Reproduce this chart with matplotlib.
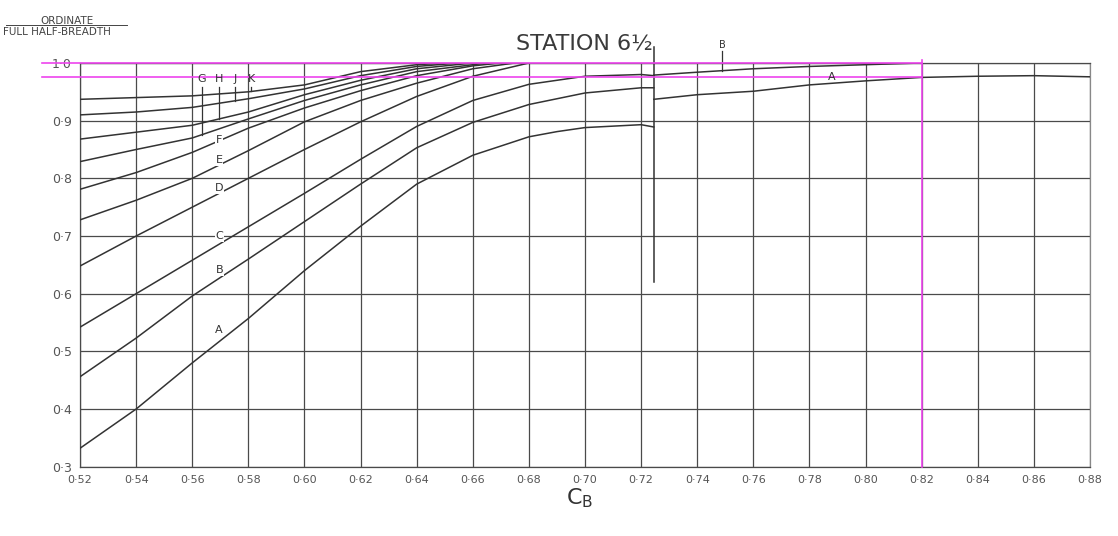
import numpy as np
import matplotlib
matplotlib.use("Agg")
import matplotlib.pyplot as plt

# block coefficient grid
cb_ticks = [0.52, 0.54, 0.56, 0.58, 0.60, 0.62, 0.64, 0.66, 0.68, 0.70,
            0.72, 0.74, 0.76, 0.78, 0.80, 0.82, 0.84, 0.86, 0.88]
ord_ticks = [0.3, 0.4, 0.5, 0.6, 0.7, 0.8, 0.9, 1.0]

# curves left of the station break (ordinate / full half-breadth)
cx_a = [0.52, 0.54, 0.56, 0.58, 0.60, 0.62, 0.64, 0.66, 0.68, 0.69, 0.70, 0.72, 0.7245]
cy_a = [0.332, 0.40, 0.48, 0.557, 0.64, 0.717, 0.79, 0.84, 0.872, 0.881, 0.888, 0.893, 0.889]
cx_b = [0.52, 0.54, 0.56, 0.58, 0.60, 0.62, 0.64, 0.66, 0.68, 0.70, 0.72, 0.7245]
cy_b = [0.456, 0.523, 0.596, 0.66, 0.725, 0.79, 0.853, 0.897, 0.928, 0.948, 0.957, 0.957]
cx_c = [0.52, 0.54, 0.56, 0.58, 0.60, 0.62, 0.64, 0.66, 0.68, 0.70, 0.72, 0.7245]
cy_c = [0.542, 0.60, 0.658, 0.716, 0.774, 0.833, 0.89, 0.935, 0.963, 0.977, 0.98, 0.978]
cx_d = [0.52, 0.54, 0.56, 0.58, 0.60, 0.62, 0.64, 0.66, 0.68]
cy_d = [0.648, 0.70, 0.75, 0.80, 0.85, 0.898, 0.942, 0.977, 1.0]
cx_e = [0.52, 0.54, 0.56, 0.58, 0.60, 0.62, 0.64, 0.66, 0.675]
cy_e = [0.728, 0.762, 0.80, 0.848, 0.898, 0.935, 0.965, 0.99, 1.0]
cx_f = [0.52, 0.54, 0.56, 0.58, 0.60, 0.62, 0.64, 0.66, 0.67]
cy_f = [0.781, 0.81, 0.845, 0.887, 0.922, 0.952, 0.978, 0.995, 1.0]
cx_g = [0.52, 0.54, 0.56, 0.58, 0.60, 0.62, 0.64, 0.665]
cy_g = [0.829, 0.85, 0.87, 0.903, 0.935, 0.962, 0.985, 1.0]
cx_h = [0.52, 0.54, 0.56, 0.58, 0.60, 0.62, 0.64, 0.66]
cy_h = [0.868, 0.88, 0.892, 0.915, 0.945, 0.97, 0.99, 1.0]
cx_j = [0.52, 0.54, 0.56, 0.58, 0.60, 0.62, 0.64, 0.655]
cy_j = [0.91, 0.915, 0.923, 0.938, 0.955, 0.978, 0.994, 1.0]
cx_k = [0.52, 0.54, 0.56, 0.58, 0.60, 0.62, 0.64, 0.65]
cy_k = [0.937, 0.94, 0.943, 0.95, 0.962, 0.985, 0.997, 1.0]

# curves right of the station break
rx_a = [0.7245, 0.74, 0.76, 0.78, 0.80, 0.82, 0.84, 0.86, 0.88]
ry_a = [0.937, 0.945, 0.951, 0.962, 0.969, 0.975, 0.977, 0.978, 0.976]
rx_b = [0.7245, 0.74, 0.76, 0.78, 0.80, 0.82]
ry_b = [0.979, 0.984, 0.99, 0.994, 0.997, 1.0]

station_cb = 0.7245
marked_cb = 0.82
marked_ord = [1.0, 0.975]

left_curves = [("A", cx_a, cy_a), ("B", cx_b, cy_b), ("C", cx_c, cy_c),
               ("D", cx_d, cy_d), ("E", cx_e, cy_e), ("F", cx_f, cy_f),
               ("G", cx_g, cy_g), ("H", cx_h, cy_h), ("J", cx_j, cy_j),
               ("K", cx_k, cy_k)]

ink = "#333333"
grid_ink = "#4a4a4a"
pink = "#ee44ee"

fig = plt.figure(figsize=(11.18, 5.36), dpi=100)
ax = fig.add_axes([0.0716, 0.1293, 0.9034, 0.7532])
ax.set_xlim(0.52, 0.88)
ax.set_ylim(0.3, 1.0)

for x in cb_ticks:
    ax.axvline(x, color=grid_ink, lw=0.9, zorder=1)
for y in ord_ticks:
    ax.axhline(y, color=grid_ink, lw=0.9, zorder=1)
for s in ax.spines.values():
    s.set_color(grid_ink)
    s.set_linewidth(0.9)
ax.spines["right"].set_color("#888888")

for name, xs, ys in left_curves:
    ax.plot(xs, ys, color=ink, lw=1.1, zorder=3)
ax.plot(rx_a, ry_a, color=ink, lw=1.1, zorder=3)
ax.plot(rx_b, ry_b, color=ink, lw=1.1, zorder=3)

# station break line
ax.plot([station_cb, station_cb], [0.62, 1.028], color=ink, lw=1.1,
        clip_on=False, zorder=3)

# pink marker lines
for yv in marked_ord:
    ax.plot([0.5065, marked_cb], [yv, yv], color=pink, lw=1.2,
            clip_on=False, zorder=4)
ax.plot([marked_cb, marked_cb], [0.3, 1.005], color=pink, lw=1.2,
        clip_on=False, zorder=4)

# labels A-F sit just above their curves
label_x = 0.5696
lab_fs = 8
for name, lab_y in zip("ABCDEF", [0.537, 0.641, 0.70, 0.783, 0.832, 0.866]):
    ax.text(label_x, lab_y, name, fontsize=lab_fs, color=ink,
            ha="center", va="center", zorder=5,
            bbox=dict(facecolor="white", edgecolor="none", pad=0.5))

# labels G H J K with leaders
for (name, xs, ys), lx in zip(left_curves[6:], [0.5635, 0.5695, 0.5752, 0.581]):
    yend = np.interp(lx, xs, ys)
    ax.plot([lx, lx], [0.958, yend], color=ink, lw=0.9, zorder=3)
    ax.text(lx, 0.972, name, fontsize=lab_fs, color=ink, ha="center",
            va="center", zorder=5)

# right labels
ax.plot([0.7489, 0.7489], [np.interp(0.7489, rx_b, ry_b), 1.02],
        color=ink, lw=0.9, clip_on=False)
ax.text(0.7489, 1.032, "B", fontsize=7, color=ink, ha="center", va="center")
ax.text(0.788, 0.976, "A", fontsize=8, color=ink, ha="center", va="center",
        zorder=5)

ax.set_xticks(cb_ticks)
ax.set_xticklabels([("%.2f" % v).replace("0.", "0\u00b7") for v in cb_ticks])
ax.set_yticks(ord_ticks)
ax.set_yticklabels([("%.1f" % v).replace(".", "\u00b7") for v in ord_ticks])
ax.tick_params(length=0, labelsize=8, colors="#555555", pad=6)
ax.tick_params(axis="y", labelsize=9)

fig.text(0.523, 0.918, "STATION 6\u00bd", fontsize=16, color="#3a3a3a",
         ha="center", va="center")
fig.text(0.518, 0.07, r"$\mathregular{C_B}$", fontsize=16, color="#333333",
         ha="center", va="center")

fig.text(0.06, 0.961, "ORDINATE", fontsize=7.5, color="#444444",
         ha="center", va="center")
fig.add_artist(plt.Line2D([0.005, 0.114], [0.953, 0.953], color="#444444",
                          lw=0.7, transform=fig.transFigure))
fig.text(0.003, 0.940, "FULL HALF-BREADTH", fontsize=7.5, color="#444444",
         ha="left", va="center")

fig.savefig("out.png", dpi=100, facecolor="white")
